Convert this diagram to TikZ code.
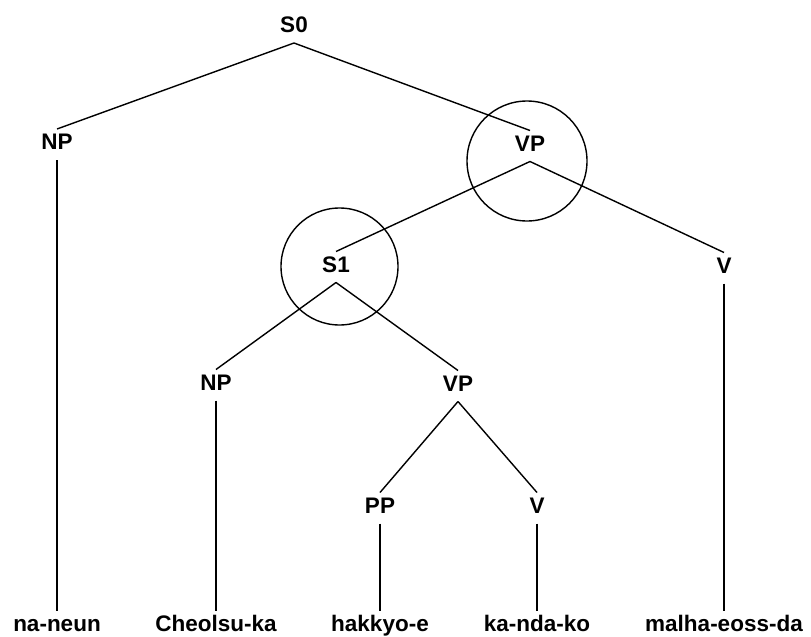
\documentclass[tikz,border=0pt]{standalone}
\usepackage{fontspec}
\setmainfont{Liberation Sans}
\begin{document}
\begin{tikzpicture}[x=1pt,y=-1pt,
  cat/.style={font=\fontsize{22.5}{24}\selectfont\bfseries, inner xsep=1pt, inner ysep=0pt, outer sep=0pt,
    text height=20.5pt, text depth=10.5pt},
  word/.style={font=\fontsize{22.5}{24}\selectfont\bfseries, inner xsep=1pt, inner ysep=0pt, outer sep=0pt,
    text height=20pt, text depth=0pt, anchor=base},
  edge/.style={line width=1.4pt},
  ring/.style={circle, draw, line width=1.4pt, inner sep=0pt}]
\useasboundingbox (0,0) rectangle (811,637);
% category labels (placed at cap centre + 3)
\node[cat] (S0)  at (294,27.5) {S0};
\node[cat] (NPa) at (57,144.5) {NP};
\node[cat] (VPa) at (530,146) {VP};
\node[cat] (S1)  at (336,267) {S1};
\node[cat] (Va)  at (724,268) {V};
\node[cat] (NPb) at (216,385) {NP};
\node[cat] (VPb) at (458,386) {VP};
\node[cat] (PP)  at (380,508) {PP};
\node[cat] (Vb)  at (537,508) {V};
% words
\node[word] (w1) at (57,631) {na-neun};
\node[word] (w2) at (216,631) {Cheolsu-ka};
\node[word] (w3) at (380,631) {hakkyo-e};
\node[word] (w4) at (537,631) {ka-nda-ko};
\node[word] (w5) at (724,631) {malha-eoss-da};
% circles
\node[ring, minimum size=120pt] (c1) at (527,161) {};
\node[ring, minimum size=117pt] (c2) at (339.5,266.5) {};
% edges
\draw[edge] (S0.south) -- (NPa.north);
\draw[edge] (S0.south) -- (VPa.north);
\draw[edge] (VPa.south) -- (S1.north);
\draw[edge] (VPa.south) -- (Va.north);
\draw[edge] (S1.south) -- (NPb.north);
\draw[edge] (S1.south) -- (VPb.north);
\draw[edge] (VPb.south) -- (PP.north);
\draw[edge] (VPb.south) -- (Vb.north);
\draw[edge] (NPa.south) -- (w1.north);
\draw[edge] (NPb.south) -- (w2.north);
\draw[edge] (PP.south) -- (w3.north);
\draw[edge] (Vb.south) -- (w4.north);
\draw[edge] (Va.south) -- (w5.north);
\end{tikzpicture}
\end{document}
